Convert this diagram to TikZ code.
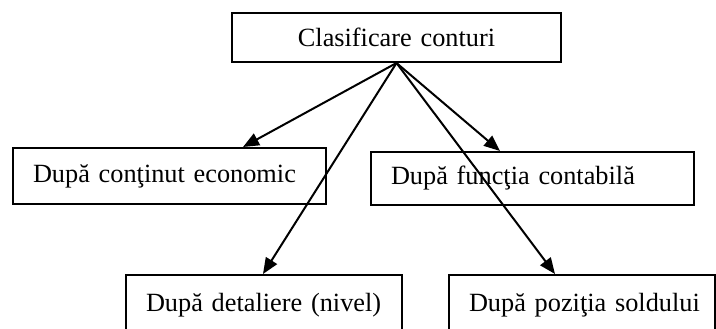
\documentclass[tikz,border=0pt]{standalone}
\usepackage{fontspec}
\setmainfont{Liberation Serif}
\usetikzlibrary{arrows.meta}
\begin{document}
\begin{tikzpicture}[x=1pt,y=-1pt,
  every node/.style={font=\fontsize{26.3}{30}\selectfont},
  box/.style={draw, line width=2pt, anchor=north west, inner ysep=0pt,
    inner xsep=20pt, align=left},
  link/.style={line width=2pt, -{Triangle[length=16pt,width=13pt]}}]
\useasboundingbox (0,0) rectangle (716,329);
\clip (0,0) rectangle (716,329);
% root box
\node[box, align=center, text width=289pt, minimum height=49pt] (root) at (231,12) {Clasificare conturi};
% second row
\node[box, text width=273pt, minimum height=56pt] (econ) at (12,147) {\mbox{După conţinut economic}};
\node[box, text width=283pt, minimum height=53pt] (func) at (370,151) {\mbox{După funcţia contabilă}};
% third row (runs past the lower edge)
\node[box, text width=236pt, minimum height=60pt] (nivel) at (125,274) {\mbox{După detaliere (nivel)}};
\node[box, text width=226pt, minimum height=60pt] (sold) at (448,274) {\mbox{După poziţia soldului}};
% connectors from the root
\draw[link] (root.south) -- ([xshift=231pt]econ.north west);
\draw[link] (root.south) -- ([xshift=130pt]func.north west);
\draw[link] (root.south) -- ([xshift=138pt]nivel.north west);
\draw[link] (root.south) -- ([xshift=107pt]sold.north west);
\end{tikzpicture}
\end{document}
